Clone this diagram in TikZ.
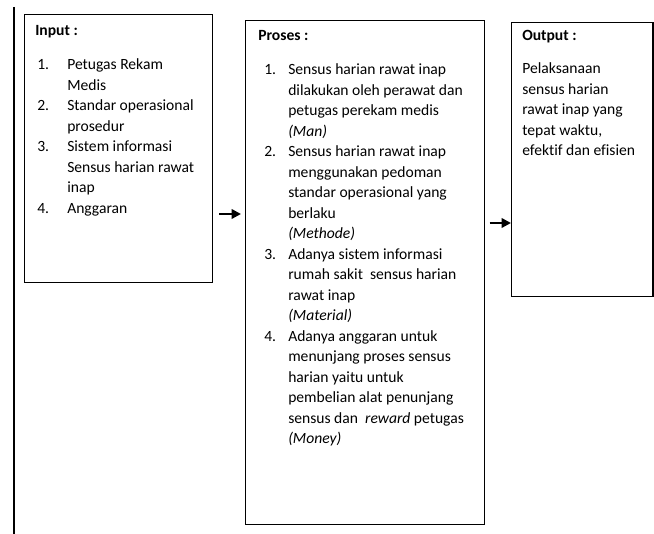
\documentclass[tikz,border=0pt]{standalone}
\usepackage{fontspec}
\setmainfont[Ligatures=NoCommon]{Carlito}
\usetikzlibrary{arrows.meta}
\begin{document}
\begin{tikzpicture}[x=0.75pt,y=-0.75pt,
  box/.style={draw=black, line width=1.1pt, inner sep=0pt, anchor=north west},
  txt/.style={anchor=base west, inner sep=0pt, font=\fontsize{11.7}{14}\selectfont},
  hdr/.style={anchor=base west, inner sep=0pt, font=\fontsize{11.7}{14}\selectfont\bfseries},
  arr/.style={line width=2.2pt, -{Triangle[length=7pt,width=7pt]}},
  rule/.style={line width=1.5pt}]
\useasboundingbox (0,0) rectangle (654,534);
% left rule
\coordinate (lt) at (14,7);
\coordinate (lb) at (14,534);
\draw[rule] (lt) -- (lb);
% boxes
\node[box, minimum width=141pt, minimum height=201pt] (input) at (24,14) {};
\node[box, minimum width=178.9pt, minimum height=378pt] (proses) at (245,20) {};
\node[box, minimum width=106.1pt, minimum height=205.5pt] (output) at (511,22) {};
% headers
\node[hdr] (hin) at (35,36) {Input :};
\node[hdr] (hpr) at (258,41) {Proses :};
\node[hdr] (hout) at (522,41) {Output :};
% input list
\foreach \k/\t [count=\i] in {0/Petugas Rekam, 1/Medis, 2/Standar operasional, 3/prosedur, 4/Sistem informasi, 5/Sensus harian rawat, 6/inap, 7/Anggaran}
  \node[txt] (in\i) at (67,{70+\k*20.5}) {\t};
\foreach \k/\n in {0/1, 2/2, 4/3, 7/4}
  \node[txt] (inn\n) at (37,{70+\k*20.5}) {\n.};
% proses list
\foreach \k/\t [count=\i] in {0/Sensus harian rawat inap, 1/dilakukan oleh perawat dan, 2/petugas perekam medis, 3/{\textit{(Man)}}, 4/Sensus harian rawat inap, 5/menggunakan pedoman, 6/standar operasional yang, 7/berlaku, 8/{\textit{(Methode)}}, 9/Adanya sistem informasi, 10/{rumah sakit\ \ sensus harian}, 11/rawat inap, 12/{\textit{(Material)}}, 13/Adanya anggaran untuk, 14/menunjang proses sensus, 15/harian yaitu untuk, 16/pembelian alat penunjang, 17/{sensus dan\ \ \textit{reward} petugas}, 18/{\textit{(Money)}}}
  \node[txt] (pr\i) at (288,{75+\k*20.5}) {\t};
\foreach \k/\n in {0/1, 4/2, 9/3, 13/4}
  \node[txt] (prn\n) at (264,{75+\k*20.5}) {\n.};
% output text
\foreach \k/\t [count=\i] in {0/Pelaksanaan, 1/sensus harian, 2/rawat inap yang, 3/{tepat waktu,}, 4/efektif dan efisien}
  \node[txt] (out\i) at (522,{74+\k*20.5}) {\t};
% arrows
\coordinate (ya) at (0,214);
\coordinate (yb) at (0,223);
\draw[arr, shorten <=4.5pt, shorten >=3pt] (input.east |- ya) -- (proses.west |- ya);
\draw[arr, shorten <=3.4pt] (proses.east |- yb) -- (output.west |- yb);
\end{tikzpicture}
\end{document}
